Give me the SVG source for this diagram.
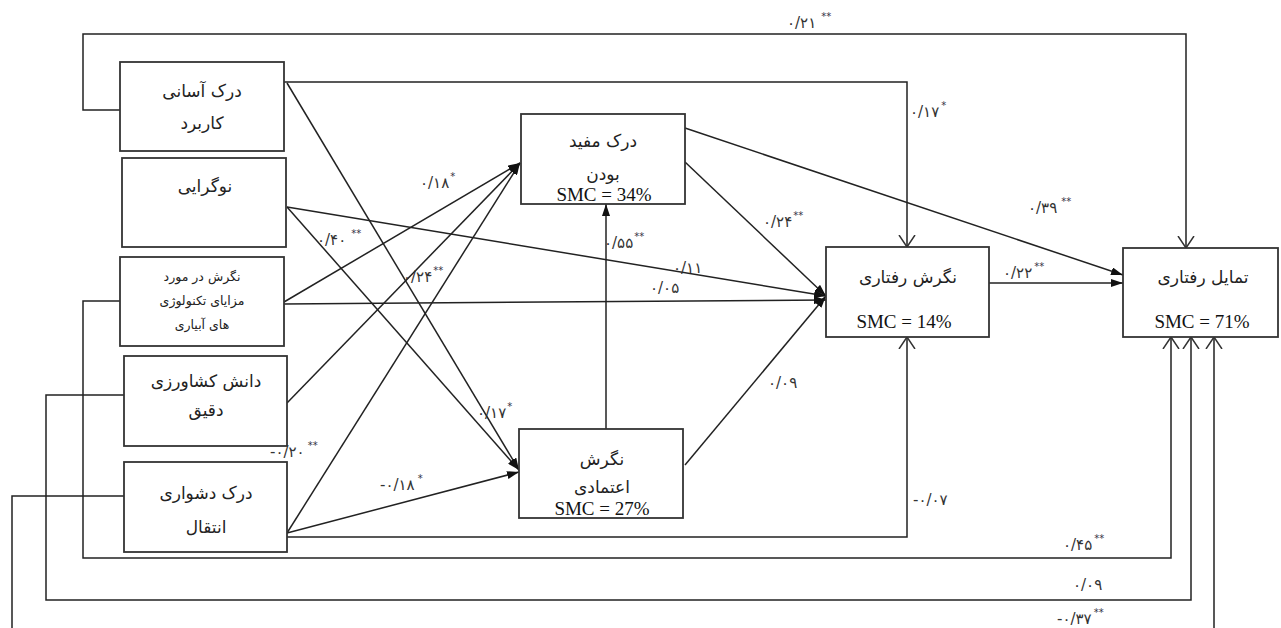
<svg xmlns="http://www.w3.org/2000/svg" width="1281" height="628" viewBox="0 0 1281 628">
<defs>
<style>
.box{fill:#fff;stroke:#333;stroke-width:1.8}
.ln{fill:none;stroke:#222;stroke-width:1.5}
.fa{marker-end:url(#fa)}
.oa{marker-end:url(#oa)}
.fa_t{font-family:"DejaVu Sans",sans-serif;font-size:17px;fill:#222;text-anchor:middle}
.fs{font-family:"DejaVu Sans",sans-serif;font-size:12.5px;fill:#222;text-anchor:middle}
.smc{font-family:"Liberation Serif",serif;font-size:19px;fill:#111;text-anchor:middle}
.lb{font-family:"DejaVu Sans",sans-serif;font-size:15px;fill:#333}
.st{font-size:10px;fill:#334}
</style>
<marker id="fa" viewBox="0 0 12 8" refX="12" refY="4" markerWidth="12" markerHeight="8" markerUnits="userSpaceOnUse" orient="auto"><path d="M0,0 L12,4 L0,8 z" fill="#111"/></marker>
<marker id="oa" viewBox="0 0 13 18" refX="12" refY="9" markerWidth="13" markerHeight="18" markerUnits="userSpaceOnUse" orient="auto"><path d="M0,1 L12,9 L0,17" fill="none" stroke="#333" stroke-width="1.5"/></marker>
</defs>
<rect width="1281" height="628" fill="#fff"/>

<g id="connectors">
<path class="ln oa" d="M120,110 H83 V34 H1186 V248"/>
<path class="ln oa" d="M284,82 H907 V247"/>
<path class="ln fa" d="M287,83 L519,470"/>
<path class="ln fa" d="M287,207 L519,470"/>
<path class="ln fa" d="M287,207 L826,296"/>
<path class="ln fa" d="M284,302 L520,163"/>
<path class="ln fa" d="M284,304 L826,300"/>
<path class="ln fa" d="M287,403 L520,163"/>
<path class="ln fa" d="M287,533 L520,163"/>
<path class="ln fa" d="M287,533 L519,472"/>
<path class="ln oa" d="M287,537 H907 V337"/>
<path class="ln fa" d="M606,429 V204"/>
<path class="ln fa" d="M685,162 L826,296"/>
<path class="ln fa" d="M685,465 L826,296"/>
<path class="ln fa" d="M685,128 L1123,275"/>
<path class="ln fa" d="M989,283 H1123"/>
<path class="ln oa" d="M120,301 H83 V558 H1171 V337"/>
<path class="ln oa" d="M124,395 H46 V600 H1191 V337"/>
<path class="ln oa" d="M124,496 H12 V640 H1214 V337"/>
</g>

<g id="labels">
<text class="lb" x="787" y="28">۰/۲۱<tspan class="st" dx="5" dy="-8">**</tspan></text>
<text class="lb" x="910" y="117">۰/۱۷<tspan class="st" dx="2" dy="-8">*</tspan></text>
<text class="lb" x="1028" y="213">۰/۳۹<tspan class="st" dx="4" dy="-8">**</tspan></text>
<text class="lb" x="763" y="227">۰/۲۴<tspan class="st" dx="1" dy="-8">**</tspan></text>
<text class="lb" x="604" y="248">۰/۵۵<tspan class="st" dx="1" dy="-8">**</tspan></text>
<text class="lb" x="673" y="273">۰/۱۱</text>
<text class="lb" x="650" y="293">۰/۰۵</text>
<text class="lb" x="1003" y="278">۰/۲۲<tspan class="st" dx="2" dy="-8">**</tspan></text>
<text class="lb" x="420" y="188">۰/۱۸<tspan class="st" dx="1" dy="-8">*</tspan></text>
<text class="lb" x="317" y="245">۰/۴۰<tspan class="st" dx="5" dy="-8">**</tspan></text>
<text class="lb" x="403" y="282">۰/۲۴<tspan class="st" dx="1" dy="-8">**</tspan></text>
<text class="lb" x="477" y="418">۰/۱۷<tspan class="st" dx="1" dy="-8">*</tspan></text>
<text class="lb" x="270" y="457">-۰/۲۰<tspan class="st" dx="3" dy="-8">**</tspan></text>
<text class="lb" x="380" y="490">-۰/۱۸<tspan class="st" dx="3" dy="-8">*</tspan></text>
<text class="lb" x="768" y="388">۰/۰۹</text>
<text class="lb" x="913" y="505">-۰/۰۷</text>
<text class="lb" x="1063" y="550">۰/۴۵<tspan class="st" dx="2" dy="-8">**</tspan></text>
<text class="lb" x="1073" y="590">۰/۰۹</text>
<text class="lb" x="1057" y="624">-۰/۳۷<tspan class="st" dx="2" dy="-8">**</tspan></text>
</g>

<g id="n-ease">
<rect class="box" x="120" y="62" width="164" height="89"/>
<text class="fa_t" x="202" y="97">درک آسانی</text>
<text class="fa_t" x="202" y="129">کاربرد</text>
</g>
<g id="n-innov">
<rect class="box" x="122" y="158" width="164" height="89"/>
<text class="fa_t" x="205" y="192">نوگرایی</text>
</g>
<g id="n-attadv">
<rect class="box" x="120" y="257" width="164" height="89"/>
<text class="fs" x="202" y="281">نگرش در مورد</text>
<text class="fs" x="202" y="305">مزایای تکنولوژی</text>
<text class="fs" x="202" y="329">های آبیاری</text>
</g>
<g id="n-knowledge">
<rect class="box" x="124" y="356" width="163" height="90"/>
<text class="fa_t" x="206" y="387">دانش کشاورزی</text>
<text class="fa_t" x="206" y="416">دقیق</text>
</g>
<g id="n-difficulty">
<rect class="box" x="124" y="462" width="163" height="90"/>
<text class="fa_t" x="206" y="499">درک دشواری</text>
<text class="fa_t" x="206" y="533">انتقال</text>
</g>
<g id="n-useful">
<rect class="box" x="521" y="114" width="164" height="90"/>
<text class="fa_t" x="603" y="147">درک مفید</text>
<text class="fa_t" x="603" y="180">بودن</text>
<text class="smc" x="604" y="201">SMC = 34%</text>
</g>
<g id="n-trust">
<rect class="box" x="519" y="429" width="164" height="89"/>
<text class="fa_t" x="602" y="465">نگرش</text>
<text class="fa_t" x="602" y="493">اعتمادی</text>
<text class="smc" x="602" y="515">SMC = 27%</text>
</g>
<g id="n-behatt">
<rect class="box" x="826" y="247" width="163" height="90"/>
<text class="fa_t" x="908" y="283">نگرش رفتاری</text>
<text class="smc" x="904" y="328">SMC = 14%</text>
</g>
<g id="n-intent">
<rect class="box" x="1123" y="248" width="155" height="89"/>
<text class="fa_t" x="1203" y="283">تمایل رفتاری</text>
<text class="smc" x="1202" y="328">SMC = 71%</text>
</g>
</svg>
